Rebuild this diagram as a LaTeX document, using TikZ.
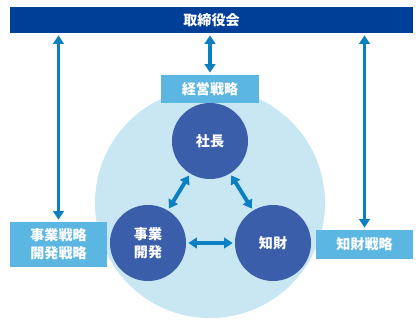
\documentclass[tikz,border=0pt]{standalone}
\usepackage{fontspec}
\setmainfont{Noto Sans CJK JP}
\usetikzlibrary{arrows.meta,positioning}
\definecolor{board}{HTML}{003F98}
\definecolor{strat}{HTML}{5CB6E2}
\definecolor{halo}{HTML}{C9E7F3}
\definecolor{core}{HTML}{3B5EAB}
\definecolor{link}{HTML}{0A7FC1}
\tikzset{
  label/.style={text=white,font=\bfseries\fontsize{10}{13}\selectfont,inner sep=0pt,align=center},
  stratbox/.style={label,fill=strat,minimum width=2.425cm},
  role/.style={label,circle,fill=core,minimum size=1.9cm},
  dbl/.style={link,line width=2.8pt,{Triangle[width=7.5pt,length=6pt]}-{Triangle[width=7.5pt,length=6pt]},shorten <=1.5pt,shorten >=1.5pt}
}
\begin{document}
\begin{tikzpicture}[x=0.025cm,y=-0.025cm]
        \useasboundingbox (0,0) rectangle (419,320);
        \fill[halo] (210,203) circle[radius=2.875cm];
        \node[label,fill=board,minimum width=10.075cm,minimum height=0.65cm] (board) at (211.5,20) {取締役会};
        \node[stratbox,minimum height=0.7cm] (plan) at (210,89) {経営戦略};
        \node[stratbox,minimum height=1.125cm] (bizplan) at (58.5,244.5) {事業戦略\\開発戦略};
        \node[stratbox,minimum height=0.725cm] (ipplan) at (364.5,244.5) {知財戦略};
        \node[role] (ceo) at (210,141) {社長};
        \node[role] (biz) at (148,243) {事業\\開発};
        \node[role] (ip) at (273,243) {知財};
        \draw[dbl] (bizplan.north) -- (bizplan.north |- board.south);
        \draw[dbl] (plan.north) -- (board.south -| plan.north);
        \draw[dbl] (ipplan.north) -- (ipplan.north |- board.south);
        \draw[dbl] (ceo) -- (biz);
        \draw[dbl] (ceo) -- (ip);
        \draw[dbl] (biz) -- (ip);
      \end{tikzpicture}
\end{document}
